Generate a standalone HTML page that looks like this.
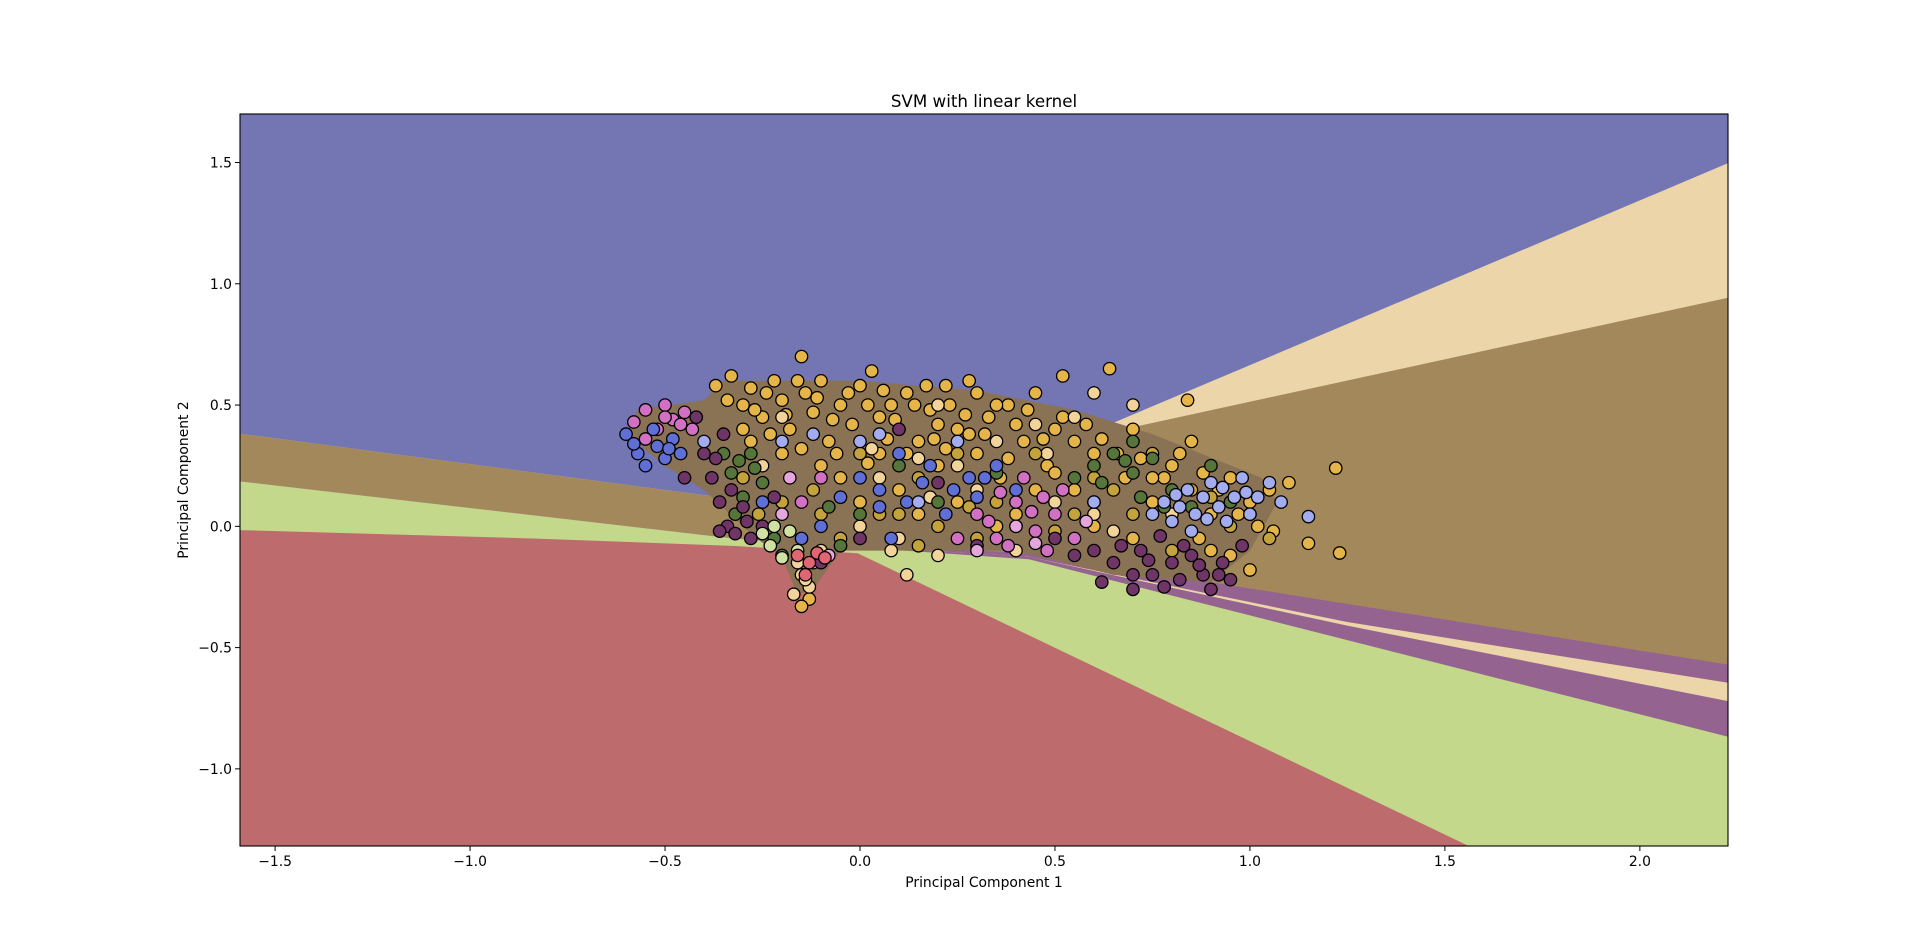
<!DOCTYPE html>
<html><head><meta charset="utf-8">
<style>
html,body{margin:0;padding:0;background:#fff;}
svg{display:block;font-family:"DejaVu Sans","Liberation Sans",sans-serif;}
</style></head>
<body>
<svg id="chart" width="1920" height="951" viewBox="0 0 1920 951" xmlns="http://www.w3.org/2000/svg">
<g id="regions"></g>
<g id="points"></g>
<g id="axes"></g>
<text x="984" y="107" font-size="16.7" text-anchor="middle">SVM with linear kernel</text>
<text x="984" y="887" font-size="13.9" text-anchor="middle">Principal Component 1</text>
<text x="0" y="0" font-size="13.9" text-anchor="middle" transform="translate(188,480) rotate(-90)">Principal Component 2</text>
</svg>
<script>
const xTicks = [-1.5,-1.0,-0.5,0.0,0.5,1.0,1.5,2.0];
const yTicks = [-1.0,-0.5,0.0,0.5,1.0,1.5];
const xDomain = [-1.59, 2.226];
const yDomain = [-1.318, 1.70];
const PL=240, PR=1728, PT=114, PB=846;
function sx(v){return PL+(v-xDomain[0])/(xDomain[1]-xDomain[0])*(PR-PL);}
function sy(v){return PB-(v-yDomain[0])/(yDomain[1]-yDomain[0])*(PB-PT);}
const NS='http://www.w3.org/2000/svg';

const regionNames = ['tan-region','brown-region','purple-region-upper','tan-stripe','purple-region-lower','green-region','red-region'];
const regionColors = ['#ebd5a9','#a2885a','#946390','#ebd5a9','#946390','#c3d88a','#bd6b6c'];
const bTan = [[-1.6,0.384],[-0.006,0.045],[0.245,0.152],[2.23,1.5]];
const bBrown = [[-1.6,0.384],[-0.006,0.045],[0.558,0.359],[2.23,0.944]];
const bPurple1 = [[-1.6,0.187],[-0.32,-0.051],[0.433,-0.111],[2.23,-0.571]];
const bTanStripe = [[-1.6,0.187],[-0.32,-0.051],[0.433,-0.126],[1.248,-0.394],[2.23,-0.646]];
const bPurple2 = [[-1.6,0.187],[-0.32,-0.051],[0.433,-0.126],[1.248,-0.409],[2.23,-0.722]];
const bGreen = [[-1.6,0.187],[-0.32,-0.051],[0.433,-0.136],[2.23,-0.869]];
const bRed = [[-1.6,-0.015],[-0.821,-0.051],[-0.32,-0.081],[-0.006,-0.111],[1.561,-1.318]];
const boundaries = [bTan,bBrown,bPurple1,bTanStripe,bPurple2,bGreen,bRed];

const cluster = [[-0.6,0.38],[-0.57,0.48],[-0.4,0.52],[-0.35,0.6],[0.0,0.6],[0.3,0.56],[0.55,0.48],[0.75,0.38],[1.03,0.2],[1.07,0.1],[1.0,-0.1],[0.9,-0.23],[0.65,-0.2],[0.4,-0.1],[0.1,-0.1],[-0.05,-0.1],[-0.12,-0.26],[-0.16,-0.28],[-0.2,-0.13],[-0.28,-0.03],[-0.4,0.15],[-0.5,0.25]];

const classNames = ['gold','light-tan','olive','dark-green','dark-purple','pink','light-pink','blue','light-blue','light-green','red'];
const classColors = ['#e5b54a','#f2d49a','#c4a23c','#55753a','#6e3566','#d271c4','#e4a6dc','#5f6fd6','#a3acee','#cfe1a3','#e26574'];
const pGold = [[-0.37,0.58],[-0.33,0.62],[-0.3,0.5],[-0.28,0.57],[-0.25,0.45],[-0.22,0.6],[-0.2,0.52],[-0.18,0.4],[-0.15,0.7],[-0.14,0.55],[-0.12,0.47],[-0.1,0.6],[-0.08,0.35],[-0.05,0.5],[-0.02,0.42],[0.0,0.58],[0.03,0.64],[0.05,0.3],[0.08,0.5],[0.1,0.4],[0.12,0.55],[0.15,0.35],[0.18,0.48],[0.2,0.25],[0.22,0.58],[0.25,0.4],[0.28,0.6],[0.3,0.3],[0.33,0.45],[0.36,0.2],[0.38,0.5],[0.42,0.35],[0.45,0.55],[0.48,0.25],[0.5,0.4],[0.52,0.62],[0.55,0.15],[0.6,0.3],[0.64,0.65],[0.68,0.2],[0.7,0.4],[0.75,0.1],[0.8,0.25],[0.85,0.35],[0.9,0.05],[0.95,0.2],[1.0,0.1],[1.05,0.15],[1.1,0.18],[1.15,-0.07],[1.22,0.24],[1.23,-0.11],[0.84,0.52],[-0.05,0.2],[0.0,0.1],[0.1,0.15],[0.25,0.1],[0.4,0.05],[0.6,0.0],[-0.2,0.3],[-0.3,0.4],[0.15,0.05],[0.35,0.0],[-0.13,-0.3],[-0.15,-0.33],[0.7,-0.05],[0.9,-0.1],[1.0,-0.18],[0.2,0.42],[0.05,0.45],[-0.1,0.25],[0.45,0.15],
 [-0.34,0.52],[-0.27,0.48],[-0.24,0.55],[-0.19,0.46],[-0.16,0.6],[-0.11,0.53],[-0.07,0.44],[-0.03,0.55],[0.02,0.5],[0.06,0.56],[0.09,0.44],[0.14,0.5],[0.17,0.58],[0.19,0.36],[0.23,0.5],[0.27,0.46],[0.3,0.55],[0.32,0.38],[0.35,0.5],[0.4,0.42],[0.43,0.48],[0.47,0.36],[0.52,0.45],[0.55,0.35],[0.58,0.42],[0.62,0.36],[0.66,0.3],[0.72,0.28],[0.78,0.2],[0.82,0.3],[0.88,0.22],[0.92,0.15],[0.97,0.05],[1.02,0.0],[1.06,-0.02],[0.12,0.3],[0.22,0.32],[0.28,0.38],[0.38,0.28],[0.5,0.22],[-0.28,0.35],[-0.23,0.38],[-0.15,0.32],[-0.06,0.3],[0.02,0.26],[0.07,0.36],[0.6,0.1],[0.75,0.2],[0.87,-0.05],[0.95,-0.12]];
const pLightTan = [[-0.25,0.25],[-0.15,-0.2],[-0.13,-0.25],[-0.12,-0.15],[-0.17,-0.28],[-0.1,-0.1],[0.0,0.0],[0.05,0.2],[0.1,-0.05],[0.2,-0.12],[0.2,0.5],[0.35,0.35],[0.45,0.42],[0.55,0.45],[0.6,0.55],[0.7,0.5],[0.65,-0.02],[0.3,0.15],[-0.2,0.45],[0.08,-0.1],[0.4,-0.1],[0.5,0.1],[0.15,0.28],[0.25,0.25],[0.8,0.05],[0.12,-0.2],[-0.14,-0.22],[-0.16,-0.15],[0.18,0.12],[0.32,0.2],[0.6,0.05],[0.48,0.3],[0.03,0.32]];
const pOlive = [[-0.3,0.2],[-0.2,0.1],[-0.1,0.05],[0.0,0.3],[0.05,0.05],[0.15,0.2],[0.25,0.3],[0.35,0.1],[0.45,0.3],[0.55,0.05],[0.65,0.15],[0.75,0.3],[0.85,0.15],[0.95,0.0],[1.05,-0.05],[-0.05,-0.05],[0.3,-0.05],[0.6,0.2],[0.2,0.0],[0.8,-0.1],[-0.12,0.15],[0.1,0.05],[0.28,0.08],[0.5,-0.02],[0.7,0.05],[0.9,0.12],[-0.26,0.05],[0.15,-0.08]];
const pDarkGreen = [[-0.35,0.3],[-0.33,0.22],[-0.3,0.12],[-0.28,0.3],[-0.25,0.18],[-0.32,0.05],[-0.2,-0.12],[-0.22,-0.05],[0.0,0.05],[0.1,0.25],[0.2,0.1],[0.35,0.22],[0.55,0.2],[0.6,0.25],[0.65,0.3],[0.7,0.22],[0.72,0.12],[0.75,0.28],[0.8,0.15],[0.85,0.08],[0.9,0.25],[0.95,0.1],[0.7,0.35],[-0.05,-0.08],[0.4,0.0],[1.0,0.05],[-0.31,0.27],[-0.27,0.24],[0.62,0.18],[0.68,0.27],[0.78,0.08],[-0.08,0.08]];
const pDarkPurple = [[-0.42,0.45],[-0.4,0.3],[-0.38,0.2],[-0.36,0.1],[-0.34,0.0],[-0.32,-0.03],[-0.3,0.08],[-0.28,-0.05],[-0.25,0.0],[-0.22,0.12],[-0.35,0.38],[-0.45,0.2],[0.1,0.4],[0.2,0.18],[0.3,-0.08],[0.5,-0.05],[0.6,-0.1],[0.62,-0.23],[0.65,-0.15],[0.7,-0.2],[0.72,-0.1],[0.75,-0.2],[0.78,-0.25],[0.8,-0.15],[0.82,-0.22],[0.85,-0.12],[0.88,-0.2],[0.9,-0.26],[0.93,-0.15],[0.95,-0.22],[0.98,-0.08],[0.7,-0.26],[0.55,-0.12],[0.0,-0.05],[-0.1,-0.15],[-0.37,0.28],[-0.33,0.15],[-0.29,0.02],[-0.36,-0.02],[0.67,-0.08],[0.74,-0.14],[0.83,-0.08],[0.87,-0.16],[0.77,-0.04],[0.92,-0.2]];
const pPink = [[-0.58,0.43],[-0.55,0.48],[-0.52,0.4],[-0.5,0.5],[-0.48,0.44],[-0.45,0.47],[-0.43,0.4],[-0.55,0.36],[-0.1,0.2],[0.3,0.05],[0.35,-0.05],[0.4,0.1],[0.45,-0.02],[0.5,0.05],[0.52,0.15],[0.48,-0.1],[0.42,0.2],[0.38,-0.08],[0.55,-0.05],[0.25,-0.05],[-0.15,0.1],[-0.5,0.45],[-0.46,0.42],[0.33,0.02],[0.44,0.06],[0.47,0.12],[0.36,0.14]];
const pLightPink = [[-0.18,0.2],[-0.2,0.05],[0.4,0.0],[0.45,-0.07],[0.58,0.02],[0.3,-0.1],[-0.08,-0.12]];
const pBlue = [[-0.6,0.38],[-0.57,0.3],[-0.55,0.25],[-0.52,0.33],[-0.5,0.28],[-0.48,0.36],[-0.46,0.3],[-0.53,0.4],[-0.25,0.1],[-0.1,0.0],[0.0,0.2],[0.05,0.15],[0.08,-0.05],[0.12,0.1],[0.18,0.25],[0.22,0.05],[0.28,0.2],[0.3,0.12],[0.35,0.25],[0.1,0.3],[-0.05,0.12],[-0.15,-0.05],[0.4,0.15],[-0.58,0.34],[-0.49,0.32],[0.16,0.18],[0.24,0.15],[0.32,0.2],[0.05,0.08]];
const pLightBlue = [[-0.4,0.35],[-0.2,0.35],[0.0,0.35],[0.05,0.38],[0.15,0.1],[0.6,0.1],[0.75,0.05],[0.78,0.1],[0.8,0.02],[0.82,0.08],[0.84,0.15],[0.86,0.05],[0.88,0.12],[0.9,0.18],[0.92,0.08],[0.94,0.02],[0.96,0.12],[0.98,0.2],[1.0,0.05],[1.02,0.12],[1.05,0.18],[1.08,0.1],[1.15,0.04],[0.85,-0.02],[0.25,0.35],[0.81,0.13],[0.89,0.03],[0.93,0.16],[0.99,0.14],[-0.12,0.38]];
const pLightGreen = [[-0.25,-0.03],[-0.23,-0.08],[-0.2,-0.13],[-0.18,-0.02],[-0.16,-0.1],[-0.22,0.0]];
const pRed = [[-0.16,-0.12],[-0.13,-0.15],[-0.11,-0.11],[-0.09,-0.13],[-0.14,-0.2]];
const classPoints = [pGold,pLightTan,pOlive,pDarkGreen,pDarkPurple,pPink,pLightPink,pBlue,pLightBlue,pLightGreen,pRed];

const reg = document.getElementById('regions');
const bg = document.createElementNS(NS,'rect');


bg.setAttribute('x',PL);bg.setAttribute('y',PT);bg.setAttribute('width',PR-PL);bg.setAttribute('height',PB-PT);bg.setAttribute('fill','#7476b3');
reg.appendChild(bg);
const clip = document.createElementNS(NS,'clipPath');clip.id='pc';
const cr = document.createElementNS(NS,'rect');cr.setAttribute('x',PL);cr.setAttribute('y',PT);cr.setAttribute('width',PR-PL);cr.setAttribute('height',PB-PT);
clip.appendChild(cr);reg.appendChild(clip);
boundaries.forEach((b,i)=>{
  let pts = b.map(p=>sx(p[0])+','+sy(p[1]));
  const last=b[b.length-1], first=b[0];
  pts.push(sx(last[0])+','+(PB+5));
  pts.push(sx(first[0])+','+(PB+5));
  const pg=document.createElementNS(NS,'polygon');
  
  
  pg.setAttribute('points',pts.join(' '));
  pg.setAttribute('fill',regionColors[i]);
  pg.setAttribute('clip-path','url(#pc)');
  reg.appendChild(pg);
});

const ptsG=document.getElementById('points');
const blob=document.createElementNS(NS,'polygon');


blob.setAttribute('points',cluster.map(p=>sx(p[0])+','+sy(p[1])).join(' '));
blob.setAttribute('fill','#8a7254');
ptsG.appendChild(blob);
classPoints.forEach((arr,ci)=>{
  arr.forEach(p=>{
    const c=document.createElementNS(NS,'circle');
    
    
    c.setAttribute('cx',sx(p[0]));c.setAttribute('cy',sy(p[1]));c.setAttribute('r','6.2');
    c.setAttribute('fill',classColors[ci]);c.setAttribute('stroke','#000');c.setAttribute('stroke-width','1.3');
    ptsG.appendChild(c);
  });
});

const ax=document.getElementById('axes');
const frame=document.createElementNS(NS,'rect');


frame.setAttribute('x',PL);frame.setAttribute('y',PT);frame.setAttribute('width',PR-PL);frame.setAttribute('height',PB-PT);
frame.setAttribute('fill','none');frame.setAttribute('stroke','#000');frame.setAttribute('stroke-width','1.1');
ax.appendChild(frame);
function fmt(v){return (v<0?'\u2212':'')+Math.abs(v).toFixed(1);}
xTicks.forEach(v=>{
  const x=sx(v);
  const l=document.createElementNS(NS,'line');
  
  
  l.setAttribute('x1',x);l.setAttribute('x2',x);l.setAttribute('y1',PB);l.setAttribute('y2',PB+5);l.setAttribute('stroke','#000');
  ax.appendChild(l);
  const t=document.createElementNS(NS,'text');
  
  
  t.setAttribute('x',x);t.setAttribute('y',PB+20);t.setAttribute('font-size','13.9');t.setAttribute('text-anchor','middle');
  t.textContent=fmt(v);ax.appendChild(t);
});
yTicks.forEach(v=>{
  const y=sy(v);
  const l=document.createElementNS(NS,'line');
  
  
  l.setAttribute('x1',PL-5);l.setAttribute('x2',PL);l.setAttribute('y1',y);l.setAttribute('y2',y);l.setAttribute('stroke','#000');
  ax.appendChild(l);
  const t=document.createElementNS(NS,'text');
  
  
  t.setAttribute('x',PL-8);t.setAttribute('y',y+5);t.setAttribute('font-size','13.9');t.setAttribute('text-anchor','end');
  t.textContent=fmt(v);ax.appendChild(t);
});
</script>
</body></html>
